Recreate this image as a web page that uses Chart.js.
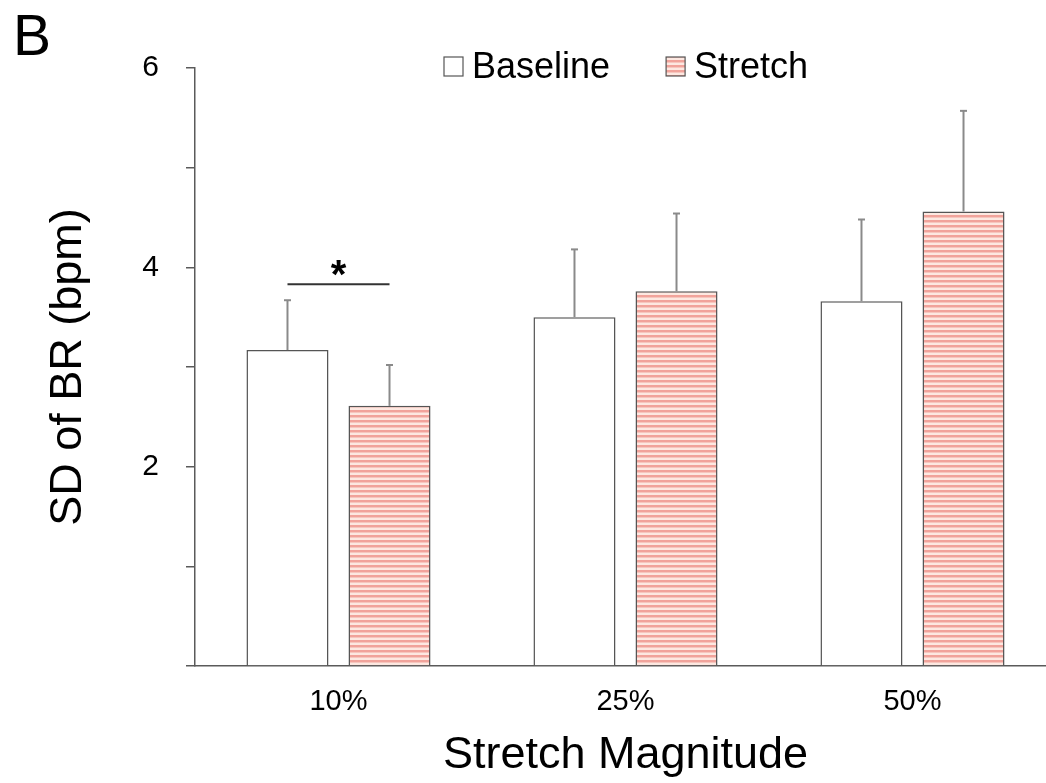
<!DOCTYPE html>
<html>
<head>
<meta charset="utf-8">
<title>SD of BR</title>
<script src="https://cdn.jsdelivr.net/npm/chart.js@4.4.1/dist/chart.umd.min.js"></script>
<style>
  html, body { margin: 0; padding: 0; background: #fff; overflow: hidden; }
  #wrap { position: relative; width: 1060px; height: 783px; }
  #panelLabel { position: absolute; left: 13px; top: 2px; font: 57px 'Liberation Sans', Arial, sans-serif; color: #000; }
</style>
</head>
<body>
<div id="wrap">
  <canvas id="chart" width="1060" height="783"></canvas>
  <div id="panelLabel">B</div>
</div>
<script>
const categories = ['10%', '25%', '50%'];
const baselineMeans = [3.17, 3.50, 3.66];
const baselineErrors = [0.50, 0.68, 0.82];
const stretchMeans = [2.61, 3.76, 4.56];
const stretchErrors = [0.41, 0.78, 1.01];
const seriesNames = ['Baseline', 'Stretch'];
const yMin = 0;
const yMax = 6;
const yStep = 1;
const labelledTicks = [2, 4, 6];
// significance bar over the 10% pair
const sigCategory = 0;
const sigLevel = 3.83;
const sigText = '*';

document.addEventListener('DOMContentLoaded', () => {
  const FONT = "'Liberation Sans', Arial, sans-serif";
  const axisColor = '#5a5a5a';
  const errColor = '#8a8a8a';

  // horizontal stripe fill for the Stretch bars
  function makeStripes() {
    const p = document.createElement('canvas');
    p.width = 8;
    p.height = 5;
    const c = p.getContext('2d');
    c.fillStyle = '#fde8e1';
    c.fillRect(0, 0, 8, 5);
    c.fillStyle = '#f1a39b';
    c.fillRect(0, 0, 8, 2.5);
    return c.createPattern(p, 'repeat');
  }
  const ctx = document.getElementById('chart').getContext('2d');
  const stripes = makeStripes();

  const errorBars = {
    id: 'errorBars',
    afterDatasetsDraw(chart) {
      const c = chart.ctx;
      const y = chart.scales.y;
      chart.data.datasets.forEach((ds, di) => {
        const meta = chart.getDatasetMeta(di);
        meta.data.forEach((bar, i) => {
          const top = y.getPixelForValue(ds.data[i] + ds.errors[i]);
          c.save();
          c.strokeStyle = errColor;
          c.lineWidth = 2;
          c.beginPath();
          c.moveTo(bar.x, bar.y);
          c.lineTo(bar.x, top);
          c.stroke();
          c.beginPath();
          c.moveTo(bar.x - 3.5, top);
          c.lineTo(bar.x + 3.5, top);
          c.stroke();
          c.restore();
        });
      });
    }
  };

  const significance = {
    id: 'significance',
    afterDatasetsDraw(chart) {
      const c = chart.ctx;
      const b0 = chart.getDatasetMeta(0).data[sigCategory];
      const b1 = chart.getDatasetMeta(1).data[sigCategory];
      const yy = chart.scales.y.getPixelForValue(sigLevel);
      c.save();
      c.strokeStyle = '#333';
      c.lineWidth = 2;
      c.beginPath();
      c.moveTo(b0.x, yy);
      c.lineTo(b1.x, yy);
      c.stroke();
      c.fillStyle = '#000';
      c.font = 'bold 40px ' + FONT;
      c.textAlign = 'center';
      c.textBaseline = 'alphabetic';
      c.fillText(sigText, (b0.x + b1.x) / 2, yy + 4);
      c.restore();
    }
  };

  const legendBox = {
    id: 'legendBox',
    afterDraw(chart) {
      const c = chart.ctx;
      c.save();
      c.font = '36px ' + FONT;
      c.textBaseline = 'middle';
      let x = 444;
      const cy = 66;
      chart.data.datasets.forEach((ds) => {
        c.fillStyle = ds.backgroundColor;
        c.fillRect(x, cy - 9, 19, 19);
        c.strokeStyle = '#555';
        c.lineWidth = 1.2;
        c.strokeRect(x, cy - 9, 19, 19);
        c.fillStyle = '#000';
        c.fillText(ds.label, x + 28, cy + 2);
        x += 28 + c.measureText(ds.label).width + 56;
      });
      c.restore();
    }
  };

  new Chart(ctx, {
    type: 'bar',
    data: {
      labels: categories,
      datasets: [{
        label: seriesNames[0],
        data: baselineMeans,
        errors: baselineErrors,
        backgroundColor: '#ffffff',
        borderColor: '#555555',
        borderWidth: 1.5,
        borderSkipped: 'bottom'
      }, {
        label: seriesNames[1],
        data: stretchMeans,
        errors: stretchErrors,
        backgroundColor: stripes,
        borderColor: '#555555',
        borderWidth: 1.5,
        borderSkipped: 'bottom'
      }]
    },
    options: {
      responsive: false,
      animation: false,
      categoryPercentage: 0.711,
      barPercentage: 0.804,
      layout: { padding: { top: 68, left: 38, right: 4, bottom: 0 } },
      plugins: {
        legend: { display: false },
        tooltip: { enabled: false }
      },
      scales: {
        x: {
          grid: { display: false },
          border: { display: true, color: axisColor, width: 1.5 },
          ticks: { color: '#000', font: { family: FONT, size: 29 }, padding: 11 },
          title: {
            display: true,
            text: 'Stretch Magnitude',
            color: '#000',
            font: { family: FONT, size: 45 },
            padding: { top: 0, bottom: 0 }
          },
          afterFit(scale) { scale.height = 117; }
        },
        y: {
          min: yMin,
          max: yMax,
          grid: {
            drawOnChartArea: false,
            drawTicks: true,
            tickLength: 9,
            color: axisColor,
            lineWidth: 1.5
          },
          border: { display: true, color: axisColor, width: 1.5 },
          ticks: {
            stepSize: yStep,
            color: '#000',
            font: { family: FONT, size: 30 },
            padding: 27,
            callback: (v) => labelledTicks.includes(v) ? String(v) : ''
          },
          title: {
            display: true,
            text: 'SD of BR (bpm)',
            color: '#000',
            font: { family: FONT, size: 45 },
            padding: { top: 4, bottom: 0 }
          },
          afterFit(scale) { scale.width = 157; }
        }
      }
    },
    plugins: [errorBars, significance, legendBox]
  });
});
</script>
</body>
</html>
